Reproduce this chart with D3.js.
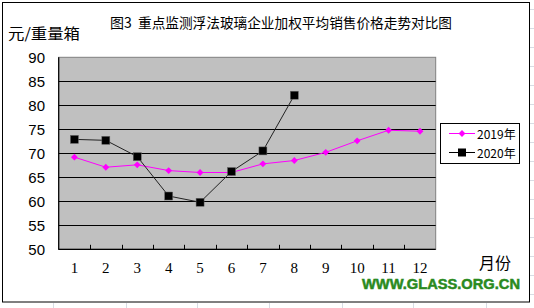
<!DOCTYPE html>
<html><head><meta charset="utf-8">
<script src="https://cdn.jsdelivr.net/npm/d3@7/dist/d3.min.js"></script>
<style>body{margin:0;background:#fff}svg{display:block}</style>
</head><body>
<script>
const months = ["1","2","3","4","5","6","7","8","9","10","11","12"];
const values2019 = [69.2,67.1,67.6,66.4,66.0,66.0,67.8,68.5,70.2,72.6,74.8,74.6];
const values2020 = [72.9,72.7,69.3,61.1,59.8,66.2,70.5,82.1];
const yTicks = [50,55,60,65,70,75,80,85,90];
const seriesNames = ["2019年","2020年"];
const titleText = "重点监测浮法玻璃企业加权平均销售价格走势对比图";

const W=534,H=308;
const svg=d3.select("body").append("svg").attr("width",W).attr("height",H);

// spreadsheet background grid
const bg=svg.append("g").attr("stroke","#d8dce4").attr("stroke-width",1);
[53,126,197,269,342,413,486].forEach(x=>bg.append("line").attr("x1",x+.5).attr("x2",x+.5).attr("y1",303).attr("y2",H));
d3.range(9,H,19).forEach(y=>bg.append("line").attr("x1",530).attr("x2",W).attr("y1",y+.5).attr("y2",y+.5));

// chart frame
svg.append("rect").attr("x",2.5).attr("y",2.5).attr("width",527).attr("height",299.5)
  .attr("fill","#fff").attr("stroke","#000").attr("stroke-width",1);

const L=58.7,R=435.7,T=57.3,B=249.3;
const x=d3.scaleBand().domain(months).range([L,R]);
const y=d3.scaleLinear().domain([50,90]).range([B,T]);

svg.append("rect").attr("x",L).attr("y",T).attr("width",R-L).attr("height",B-T)
  .attr("fill","#c0c0c0").attr("stroke","#808080").attr("stroke-width",1);

// gridlines
svg.append("g").selectAll("line").data(yTicks.filter(d=>d>50&&d<90)).join("line")
  .attr("x1",L).attr("x2",R).attr("y1",d=>Math.round(y(d))+.5).attr("y2",d=>Math.round(y(d))+.5)
  .attr("stroke","#000").attr("stroke-width",1);

// axes lines
svg.append("line").attr("x1",L).attr("x2",L).attr("y1",T).attr("y2",B+0.5).attr("stroke","#000").attr("stroke-width",1.2);
svg.append("line").attr("x1",L).attr("x2",R).attr("y1",B).attr("y2",B).attr("stroke","#000").attr("stroke-width",1.2);

// x ticks (between categories, inside)
svg.append("g").selectAll("line").data(months.slice(1)).join("line")
  .attr("x1",d=>Math.round(x(d))+.5).attr("x2",d=>Math.round(x(d))+.5)
  .attr("y1",B-4.5).attr("y2",B).attr("stroke","#000");

// y labels
svg.append("g").selectAll("text").data(yTicks).join("text")
  .attr("x",45).attr("y",d=>y(d)+5.5).attr("text-anchor","end")
  .attr("font-family","Liberation Sans, Arial, sans-serif").attr("font-size",15).text(d=>d);

// x labels
svg.append("g").selectAll("text").data(months).join("text")
  .attr("x",d=>x(d)+x.bandwidth()/2).attr("y",273).attr("text-anchor","middle")
  .attr("font-family","Liberation Serif, serif").attr("font-size",15).text(d=>d);

// titles
svg.append("text").attr("x",110).attr("y",28).attr("font-family","Noto Sans CJK SC").attr("font-size",14).text("图3");
svg.append("text").attr("x",138).attr("y",28).attr("font-family","Noto Sans CJK SC").attr("font-size",14)
  .attr("textLength",314).attr("lengthAdjust","spacingAndGlyphs").text(titleText);
svg.append("text").attr("x",8).attr("y",39).attr("font-family","Noto Sans CJK SC").attr("font-size",15)
  .attr("textLength",72).attr("lengthAdjust","spacingAndGlyphs").text("元/重量箱");
svg.append("text").attr("x",479).attr("y",269).attr("font-family","Noto Sans CJK SC").attr("font-size",16).text("月份");

// watermark
svg.append("text").attr("x",362).attr("y",289).attr("font-family","Liberation Sans, Arial, sans-serif")
  .attr("font-weight","bold").attr("font-size",14).attr("fill","#2a8a1e")
  .attr("stroke","#2a8a1e").attr("stroke-width",0.5)
  .attr("textLength",158).attr("lengthAdjust","spacingAndGlyphs").text("WWW.GLASS.ORG.CN");

const cx=(d,i)=>x(months[i])+x.bandwidth()/2;
const line=d3.line().x((d,i)=>cx(d,i)).y(d=>y(d));
const diamond=d3.symbol().type(d3.symbolDiamond2).size(30);

// 2019
svg.append("path").attr("d",line(values2019)).attr("fill","none").attr("stroke","#ff00ff").attr("stroke-width",1);
svg.append("g").selectAll("path").data(values2019).join("path")
  .attr("transform",(d,i)=>`translate(${cx(d,i)},${y(d)})`).attr("d",diamond).attr("fill","#ff00ff");

// 2020
svg.append("path").attr("d",line(values2020)).attr("fill","none").attr("stroke","#222").attr("stroke-width",1);
svg.append("g").selectAll("rect").data(values2020).join("rect")
  .attr("x",(d,i)=>cx(d,i)-4).attr("y",d=>y(d)-4).attr("width",8).attr("height",8)
  .attr("fill","#000").attr("stroke","#666").attr("stroke-width",0.5);

// legend
const lg=svg.append("g");
lg.append("rect").attr("x",440.5).attr("y",123.5).attr("width",79).attr("height",40).attr("fill","#fff").attr("stroke","#000");
const ly=[133.5,152.5];
seriesNames.forEach((n,i)=>{
  const c=i===0?"#ff00ff":"#000";
  lg.append("line").attr("x1",449).attr("x2",475).attr("y1",ly[i]).attr("y2",ly[i]).attr("stroke",c);
  if(i===0) lg.append("path").attr("transform",`translate(462,${ly[i]})`).attr("d",diamond).attr("fill",c);
  else lg.append("rect").attr("x",458).attr("y",ly[i]-4).attr("width",8).attr("height",8).attr("fill",c);
  lg.append("text").attr("x",477).attr("y",ly[i]+5).attr("font-family","Noto Sans CJK SC").attr("font-size",12).text(n);
});
</script>
</body></html>
